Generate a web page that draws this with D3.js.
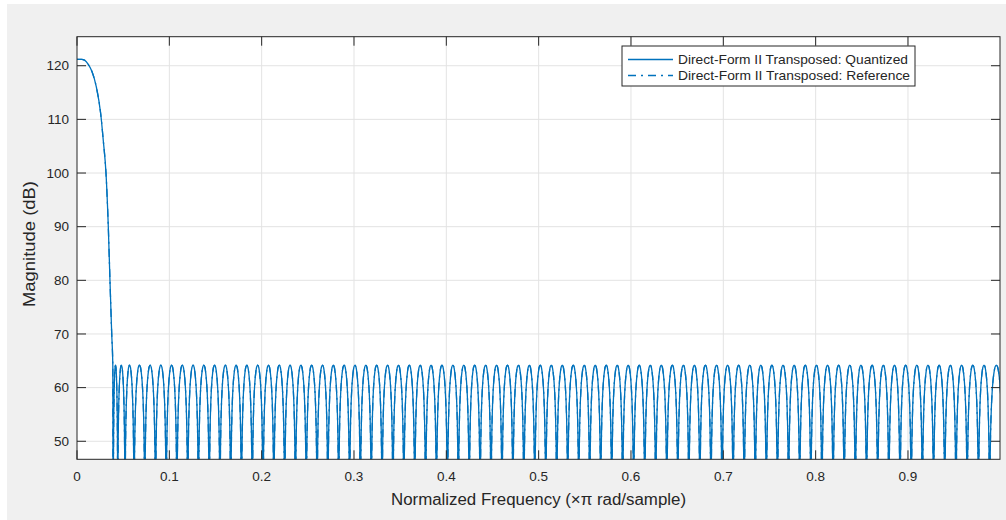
<!DOCTYPE html>
<html>
<head>
<meta charset="utf-8">
<script src="https://cdn.jsdelivr.net/npm/d3@7"></script>
<style>
  html, body { margin: 0; padding: 0; background: #fff; }
  svg { display: block; }
  text { font-family: "Liberation Sans", Arial, Helvetica, sans-serif; fill: #262626; }
</style>
</head>
<body>
<div id="chart"></div>
<script>
// passband + transition [freq (x pi rad/sample), dB]
const passband = [
  [0, 121.2], [0.005, 121.2], [0.0085, 121.0], [0.012, 120.3], [0.016, 119.0],
  [0.021, 116.0], [0.0257, 111.0], [0.0285, 106.0], [0.0314, 100.0], [0.0339, 90.0],
  [0.0357, 80.0], [0.0376, 70.0], [0.0388, 64.0]
];
// stopband nulls (where the response dives below the axis)
const stopNulls = [
  0.0393, 0.0441, 0.0520, 0.0618, 0.0734, 0.0850, 0.0966, 0.1082, 0.1199, 0.1315,
  0.1432, 0.1548, 0.1665, 0.1781, 0.1898, 0.2015, 0.2132, 0.2249, 0.2366, 0.2483,
  0.2600, 0.2717, 0.2834, 0.2952, 0.3069, 0.3187, 0.3304, 0.3422, 0.3540, 0.3658,
  0.3776, 0.3893, 0.4012, 0.4130, 0.4248, 0.4366, 0.4484, 0.4603, 0.4721, 0.4840,
  0.4958, 0.5077, 0.5196, 0.5315, 0.5434, 0.5553, 0.5672, 0.5791, 0.5910, 0.6029,
  0.6149, 0.6268, 0.6388, 0.6507, 0.6627, 0.6746, 0.6866, 0.6986, 0.7106, 0.7226,
  0.7346, 0.7466, 0.7586, 0.7707, 0.7827, 0.7948, 0.8068, 0.8189, 0.8309, 0.8430,
  0.8551, 0.8672, 0.8793, 0.8914, 0.9035, 0.9156, 0.9277, 0.9398, 0.9520, 0.9641,
  0.9763, 0.9884, 1.0030
];
const stopPeakDb = 64.2;
// half of one sidelobe: [fraction of lobe width, dB below the lobe peak]
const lobeHalf = [
  [0, -90], [0.01, -30.1], [0.02, -24.0], [0.035, -19.2], [0.05, -16.1], [0.075, -12.6],
  [0.1, -10.2], [0.14, -7.4], [0.19, -5.0], [0.25, -3.0], [0.32, -1.5], [0.4, -0.4], [0.5, 0]
];
const xTicks = [0, 0.1, 0.2, 0.3, 0.4, 0.5, 0.6, 0.7, 0.8, 0.9];
const yTicks = [50, 60, 70, 80, 90, 100, 110, 120];
const seriesNames = ["Direct-Form II Transposed: Quantized", "Direct-Form II Transposed: Reference"];

const width = 1006, height = 520;
const blue = "#0072BD", axisColor = "#262626", gridColor = "#e3e3e3";

const svg = d3.select("#chart").append("svg").attr("width", width).attr("height", height);

// figure background
svg.append("rect").attr("x", 7).attr("y", 4).attr("width", width - 7).attr("height", height - 4)
  .attr("fill", "#f0f0f0");

const plot = { left: 77, right: 1000, top: 36.7, bottom: 459.3 };

const x = d3.scaleLinear().domain([0, 0.99967]).range([plot.left, plot.right]);
const y = d3.scaleLinear().domain([46.64, 125.41]).range([plot.bottom, plot.top]);

svg.append("rect").attr("x", plot.left).attr("y", plot.top)
  .attr("width", plot.right - plot.left).attr("height", plot.bottom - plot.top)
  .attr("fill", "#fff");

// grid
const grid = svg.append("g");
grid.selectAll("line.gx").data(xTicks.slice(1)).enter().append("line")
  .attr("x1", d => x(d)).attr("x2", d => x(d)).attr("y1", plot.top).attr("y2", plot.bottom)
  .attr("stroke", gridColor).attr("stroke-width", 1);
grid.selectAll("line.gy").data(yTicks).enter().append("line")
  .attr("x1", plot.left).attr("x2", plot.right).attr("y1", d => y(d)).attr("y2", d => y(d))
  .attr("stroke", gridColor).attr("stroke-width", 1);

// build the response curve
const pts = passband.slice();
for (let i = 0; i < stopNulls.length - 1; i++) {
  const a = stopNulls[i], b = stopNulls[i + 1];
  lobeHalf.forEach(p => pts.push([a + p[0] * (b - a), stopPeakDb + p[1]]));
  for (let j = lobeHalf.length - 2; j >= 0; j--) {
    const p = lobeHalf[j];
    pts.push([b - p[0] * (b - a), stopPeakDb + p[1]]);
  }
}

svg.append("clipPath").attr("id", "clip").append("rect")
  .attr("x", plot.left).attr("y", plot.top)
  .attr("width", plot.right - plot.left).attr("height", plot.bottom - plot.top);

const line = d3.line().x(d => x(d[0])).y(d => y(d[1])).curve(d3.curveMonotoneX);
const curves = svg.append("g").attr("clip-path", "url(#clip)");
curves.append("path").datum(pts).attr("d", line)
  .attr("fill", "none").attr("stroke", blue).attr("stroke-width", 1.3);
curves.append("path").datum(pts).attr("d", line)
  .attr("fill", "none").attr("stroke", blue).attr("stroke-width", 1.3)
  .attr("stroke-dasharray", "8,5,2,5");

// axes box and ticks
const tickLen = 9;
const ax = svg.append("g").attr("stroke", axisColor).attr("stroke-width", 1);
ax.append("rect").attr("x", plot.left).attr("y", plot.top)
  .attr("width", plot.right - plot.left).attr("height", plot.bottom - plot.top)
  .attr("fill", "none");
xTicks.forEach(t => {
  ax.append("line").attr("x1", x(t)).attr("x2", x(t)).attr("y1", plot.bottom).attr("y2", plot.bottom - tickLen);
  ax.append("line").attr("x1", x(t)).attr("x2", x(t)).attr("y1", plot.top).attr("y2", plot.top + tickLen);
});
yTicks.forEach(t => {
  ax.append("line").attr("x1", plot.left).attr("x2", plot.left + tickLen).attr("y1", y(t)).attr("y2", y(t));
  ax.append("line").attr("x1", plot.right).attr("x2", plot.right - tickLen).attr("y1", y(t)).attr("y2", y(t));
});

// tick labels
svg.append("g").selectAll("text").data(xTicks).enter().append("text")
  .attr("x", d => x(d)).attr("y", plot.bottom + 22).attr("text-anchor", "middle")
  .attr("font-size", 13.5).text(d => d === 0 ? "0" : d.toFixed(1));
svg.append("g").selectAll("text").data(yTicks).enter().append("text")
  .attr("x", plot.left - 8).attr("y", d => y(d) + 4.7).attr("text-anchor", "end")
  .attr("font-size", 13.5).text(d => d);

// axis labels
svg.append("text").attr("x", (plot.left + plot.right) / 2).attr("y", 505)
  .attr("text-anchor", "middle").attr("font-size", 16)
  .attr("textLength", 295).attr("lengthAdjust", "spacingAndGlyphs")
  .text("Normalized Frequency (\u00d7\u03c0 rad/sample)");
svg.append("text").attr("transform", `translate(35,${(plot.top + plot.bottom) / 2 - 4}) rotate(-90)`)
  .attr("text-anchor", "middle").attr("font-size", 16)
  .attr("textLength", 126).attr("lengthAdjust", "spacingAndGlyphs").text("Magnitude (dB)");

// legend
const lg = svg.append("g");
lg.append("rect").attr("x", 622).attr("y", 46).attr("width", 293).attr("height", 40)
  .attr("fill", "#fff").attr("stroke", axisColor).attr("stroke-width", 1);
seriesNames.forEach((name, i) => {
  const ly = 59.5 + i * 16;
  lg.append("line").attr("x1", 628).attr("x2", 673).attr("y1", ly).attr("y2", ly)
    .attr("stroke", blue).attr("stroke-width", 1.3)
    .attr("stroke-dasharray", i === 0 ? null : "8,5,2,5");
  lg.append("text").attr("x", 678).attr("y", ly + 4.5).attr("font-size", 13)
    .attr("textLength", i === 0 ? 230 : 232).attr("lengthAdjust", "spacingAndGlyphs").text(name);
});
</script>
</body>
</html>
